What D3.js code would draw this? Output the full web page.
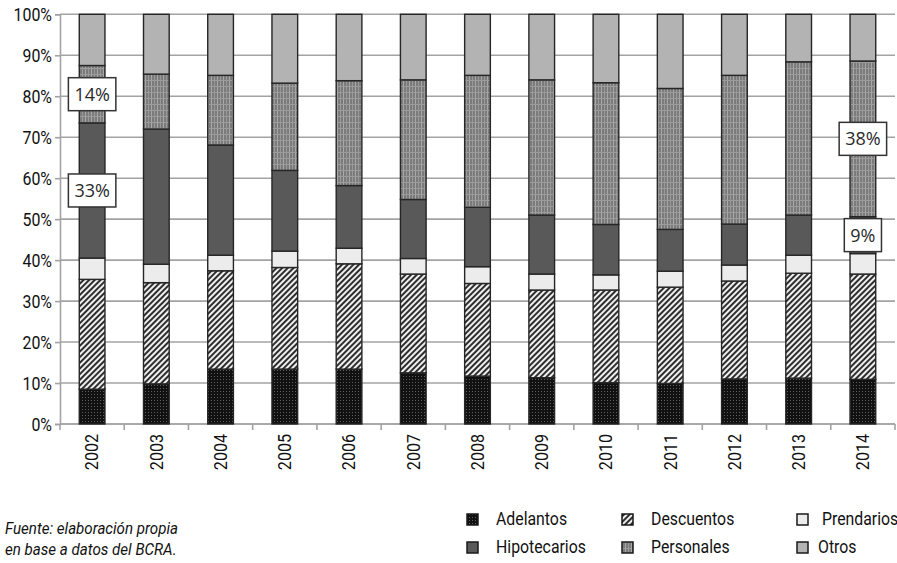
<!DOCTYPE html>
<html>
<head>
<meta charset="utf-8">
<script src="https://cdn.jsdelivr.net/npm/d3@7"></script>
<style>
  html, body { margin: 0; padding: 0; background: #fff; }
  svg { display: block; }
</style>
</head>
<body>
<svg id="chart" width="897" height="563"></svg>
<script>
// Composición de la cartera de préstamos (participación % por línea)
const years = ["2002","2003","2004","2005","2006","2007","2008","2009","2010","2011","2012","2013","2014"];
const seriesNames = ["Adelantos","Descuentos","Prendarios","Hipotecarios","Personales","Otros"];
const adelantos    = [8.5, 9.8, 13.4, 13.4, 13.4, 12.5, 11.7, 11.3, 10.1, 9.9, 11.0, 11.2, 10.9];
const descuentos   = [26.8, 24.7, 24.0, 24.8, 25.7, 24.1, 22.6, 21.4, 22.6, 23.5, 23.9, 25.6, 25.7];
const prendarios   = [5.2, 4.5, 3.8, 4.0, 3.8, 3.8, 4.1, 3.9, 3.7, 3.9, 3.9, 4.4, 5.0];
const hipotecarios = [33.0, 33.0, 26.9, 19.7, 15.3, 14.4, 14.5, 14.4, 12.3, 10.2, 10.0, 9.8, 9.0];
const personales   = [14.0, 13.4, 17.0, 21.3, 25.6, 29.2, 32.2, 33.0, 34.6, 34.4, 36.3, 37.4, 38.0];
const otros        = [12.5, 14.6, 14.9, 16.8, 16.2, 16.0, 14.9, 16.0, 16.7, 18.1, 14.9, 11.6, 11.4];
const yTicks = [0, 10, 20, 30, 40, 50, 60, 70, 80, 90, 100];
// Segmentos con etiqueta de valor: [serie, año]
const valueLabels = [["Personales","2002"],["Hipotecarios","2002"],["Personales","2014"],["Hipotecarios","2014"]];
const sourceLines = ["Fuente: elaboración propia", "en base a datos del BCRA."];

const table = years.map((y, i) => ({
  year: y,
  Adelantos: adelantos[i], Descuentos: descuentos[i], Prendarios: prendarios[i],
  Hipotecarios: hipotecarios[i], Personales: personales[i], Otros: otros[i]
}));

const svg = d3.select("#chart");
const M = { left: 60, right: 895, top: 14.3, bottom: 424 };
const font = "Roboto, 'Liberation Sans', Arial, sans-serif";
const SQUEEZE = 0.88; // tipografía angosta

// Texto angosto: se escala en horizontal alrededor del punto de anclaje
function narrowText(g, tx, ty, str, opts = {}) {
  return g.append("text")
    .attr("transform", `translate(${tx},${ty})${opts.rotate ? ` rotate(${opts.rotate})` : ""} scale(${opts.sx || SQUEEZE},1)`)
    .attr("text-anchor", opts.anchor || "start")
    .attr("dy", opts.dy == null ? "0.36em" : opts.dy)
    .attr("font-family", font)
    .attr("font-size", opts.size || 18)
    .attr("font-style", opts.italic ? "italic" : null)
    .attr("fill", "#111")
    .text(str);
}

// Texturas de relleno
const defs = svg.append("defs");
const pAd = defs.append("pattern").attr("id", "p-adelantos").attr("patternUnits", "userSpaceOnUse")
  .attr("width", 3).attr("height", 3);
pAd.append("rect").attr("width", 3).attr("height", 3).attr("fill", "#111");
pAd.append("rect").attr("x", 1).attr("y", 1).attr("width", 1).attr("height", 1).attr("fill", "#5e5e5e");

const pDe = defs.append("pattern").attr("id", "p-descuentos").attr("patternUnits", "userSpaceOnUse")
  .attr("width", 4).attr("height", 4).attr("patternTransform", "rotate(45)");
pDe.append("rect").attr("width", 4).attr("height", 4).attr("fill", "#efefef");
pDe.append("rect").attr("width", 2).attr("height", 4).attr("fill", "#2e2e2e");

const pPe = defs.append("pattern").attr("id", "p-personales").attr("patternUnits", "userSpaceOnUse")
  .attr("width", 6).attr("height", 6);
pPe.append("rect").attr("width", 6).attr("height", 6).attr("fill", "#7b7b7b");
pPe.append("rect").attr("x", 1).attr("width", 1).attr("height", 6).attr("fill", "#a8a8a8");
pPe.append("rect").attr("x", 4).attr("width", 1).attr("height", 6).attr("fill", "#999");
pPe.append("rect").attr("y", 2).attr("width", 6).attr("height", 1).attr("fill", "#9c9c9c");

const fills = {
  Adelantos: "url(#p-adelantos)",
  Descuentos: "url(#p-descuentos)",
  Prendarios: "#ececec",
  Hipotecarios: "#595959",
  Personales: "url(#p-personales)",
  Otros: "#b3b3b3"
};

const x = d3.scaleBand().domain(years).range([M.left, M.right]).paddingInner(0.6).paddingOuter(0.3);
const y = d3.scaleLinear().domain([0, 100]).range([M.bottom, M.top]);

// Grilla horizontal
svg.append("g").selectAll("line").data(yTicks).join("line")
  .attr("x1", M.left).attr("x2", M.right)
  .attr("y1", d => y(d)).attr("y2", d => y(d))
  .attr("stroke", "#a3a3a3").attr("stroke-width", 1.6);

// Eje vertical
const yAxis = svg.append("g").attr("transform", `translate(${M.left},0)`)
  .call(d3.axisLeft(y).tickValues(yTicks).tickFormat("").tickSize(5));
yAxis.select(".domain").attr("stroke", "#a3a3a3").attr("stroke-width", 1.6);
yAxis.selectAll(".tick line").attr("stroke", "#a3a3a3").attr("stroke-width", 1.6);
const yLab = svg.append("g");
yTicks.forEach(t => narrowText(yLab, M.left - 8, y(t), t + "%", { anchor: "end", size: 18.5, sx: 0.86 }));

// Eje horizontal con marcas entre categorías
const step = x.step();
const boundaries = d3.range(years.length + 1).map(i => M.left + i * step);
svg.append("line").attr("x1", M.left).attr("x2", M.right).attr("y1", M.bottom).attr("y2", M.bottom)
  .attr("stroke", "#a3a3a3").attr("stroke-width", 1.6);
svg.append("g").selectAll("line").data(boundaries).join("line")
  .attr("x1", d => d).attr("x2", d => d).attr("y1", M.bottom).attr("y2", M.bottom + 6)
  .attr("stroke", "#a3a3a3").attr("stroke-width", 1.6);
const xLab = svg.append("g");
years.forEach(yr => narrowText(xLab, x(yr) + x.bandwidth() / 2, M.bottom + 10, yr,
  { anchor: "end", rotate: -90, size: 17.5, sx: 0.92 }));

// Barras apiladas
const stacked = d3.stack().keys(seriesNames)(table);
const layers = svg.append("g").selectAll("g").data(stacked).join("g")
  .attr("fill", d => fills[d.key]);
layers.selectAll("rect").data(d => d).join("rect")
  .attr("x", d => x(d.data.year))
  .attr("width", x.bandwidth())
  .attr("y", d => y(d[1]))
  .attr("height", d => y(d[0]) - y(d[1]))
  .attr("stroke", "#262626").attr("stroke-width", 1.4);

// Etiquetas de valor
const labelG = svg.append("g");
valueLabels.forEach(([key, yr]) => {
  const layer = stacked.find(s => s.key === key);
  const seg = layer.find(d => d.data.year === yr);
  const val = seg.data[key];
  const cx = x(yr) + x.bandwidth() / 2;
  const cy = y((seg[0] + seg[1]) / 2);
  const g = labelG.append("g").attr("transform", `translate(${cx},${cy})`);
  const t = g.append("text").attr("text-anchor", "middle").attr("dy", "0.36em")
    .attr("font-family", "'Open Sans', 'Noto Sans', sans-serif").attr("font-size", 18)
    .attr("fill", "#2a2a2a").text(Math.round(val) + "%");
  const bb = t.node().getBBox();
  const w = bb.width + 12, h = 33;
  g.insert("rect", "text").attr("x", -w / 2).attr("y", -h / 2).attr("width", w).attr("height", h)
    .attr("fill", "#fff").attr("stroke", "#333").attr("stroke-width", 1.5);
});

// Leyenda
const legendCols = [467, 622, 797];
const legendRows = [519, 547];
const legendOrder = ["Adelantos","Descuentos","Prendarios","Hipotecarios","Personales","Otros"];
const legend = svg.append("g");
legendOrder.forEach((name, i) => {
  const lx = legendCols[i % 3], ly = legendRows[Math.floor(i / 3)];
  legend.append("rect").attr("x", lx).attr("y", ly - 5).attr("width", 11).attr("height", 11)
    .attr("fill", fills[name]).attr("stroke", "#1a1a1a").attr("stroke-width", 1.5);
  narrowText(legend, lx + (i === 2 ? 25 : (i % 3 === 2 ? 21 : 29)), ly, name, { size: 18 });
});

// Fuente
const src = svg.append("g");
sourceLines.forEach((line, i) => narrowText(src, 5, 528 + i * 21, line, { size: 17, italic: true, sx: 0.89 }));
</script>
</body>
</html>
